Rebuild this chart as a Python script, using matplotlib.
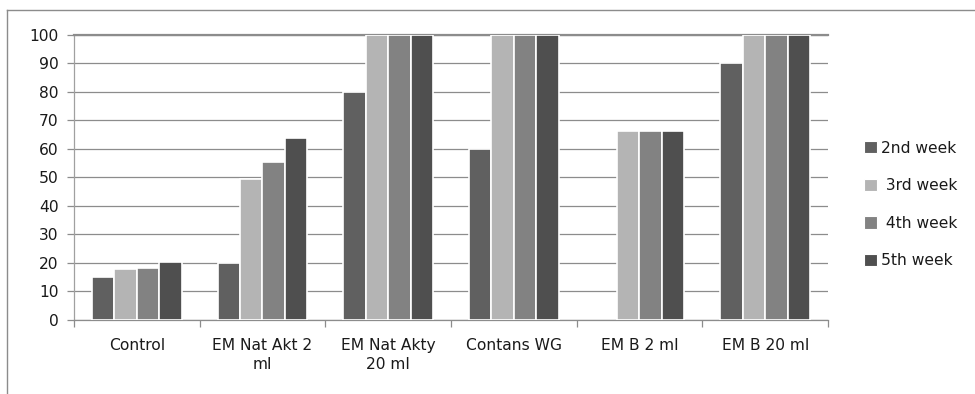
import numpy as np
import matplotlib
matplotlib.use("Agg")
import matplotlib.pyplot as plt
from matplotlib.lines import Line2D
from matplotlib.patches import Patch

# ------------------------------------------------------------
# data (nan = no bar drawn)
# ------------------------------------------------------------
categories = ["Control", "EM Nat Akt 2\nml", "EM Nat Akty\n20 ml",
              "Contans WG", "EM B 2 ml", "EM B 20 ml"]
week_labels = ["2nd week", " 3rd week", " 4th week", "5th week"]
week2 = [15.0, 20.0, 80.0, 60.0, np.nan, 90.0]
week3 = [17.6, 49.3, 100.0, 100.0, 66.3, 100.0]
week4 = [18.0, 55.2, 100.0, 100.0, 66.3, 100.0]
week5 = [20.3, 63.6, 100.0, 100.0, 66.3, 100.0]
yticks = [0, 10, 20, 30, 40, 50, 60, 70, 80, 90, 100]

series = [week2, week3, week4, week5]
colors = ["#606060", "#b4b4b4", "#828282", "#4f4f4f"]

plt.rcParams["font.family"] = ["DejaVu Sans"]
FS = 11.2
TXT = "#1a1a1a"

fig = plt.figure(figsize=(9.75, 3.94), dpi=100)
ax = fig.add_axes([0.0759, 0.189, 0.7733, 0.7234])

x = np.arange(len(categories))
width = 0.179
for i, (vals, col) in enumerate(zip(series, colors)):
    ax.bar(x + (i - 1.5) * width, vals, width, color=col,
           edgecolor="white", linewidth=1.2, zorder=3, label=week_labels[i])

ax.set_xlim(-0.5, len(categories) - 0.5)
ax.set_ylim(0, 100)
ax.set_yticks(yticks)
ax.yaxis.grid(True, color="#8c8c8c", linewidth=0.9, zorder=0)
ax.set_axisbelow(True)

# category labels centred, tick marks between categories
ax.set_xticks(x)
ax.set_xticklabels(categories, fontsize=FS, color=TXT, linespacing=1.35)
ax.set_xticks(np.arange(-0.5, len(categories), 1.0), minor=True)
ax.tick_params(axis="x", which="major", length=0, pad=13)
ax.tick_params(axis="x", which="minor", length=5, color="#8c8c8c", width=0.9)
ax.tick_params(axis="y", length=5, pad=6, color="#8c8c8c", width=0.9,
               labelsize=FS, labelcolor=TXT)

ax.spines["right"].set_visible(False)
ax.spines["top"].set_color("#8c8c8c")
ax.spines["top"].set_linewidth(1.6)
ax.spines["left"].set_color("#a0a0a0")
ax.spines["left"].set_linewidth(0.9)
ax.spines["bottom"].set_color("#8c8c8c")
ax.spines["bottom"].set_linewidth(0.9)

# legend
handles = [Patch(facecolor=c, edgecolor="white", linewidth=0.8) for c in colors]
fig.legend(handles, week_labels, loc="center left",
           bbox_to_anchor=(0.872, 0.481), frameon=False, fontsize=FS,
           handlelength=0.85, handleheight=0.85, handletextpad=0.2,
           labelspacing=1.45, labelcolor=TXT)

# outer chart frame (top and left edges visible)
fig.add_artist(Line2D([0.0072, 1.0], [0.975, 0.975], transform=fig.transFigure,
                      color="#8c8c8c", linewidth=1.0))
fig.add_artist(Line2D([0.0072, 0.0072], [0.0, 0.975], transform=fig.transFigure,
                      color="#8c8c8c", linewidth=1.0))

fig.savefig("out.png", dpi=100)
